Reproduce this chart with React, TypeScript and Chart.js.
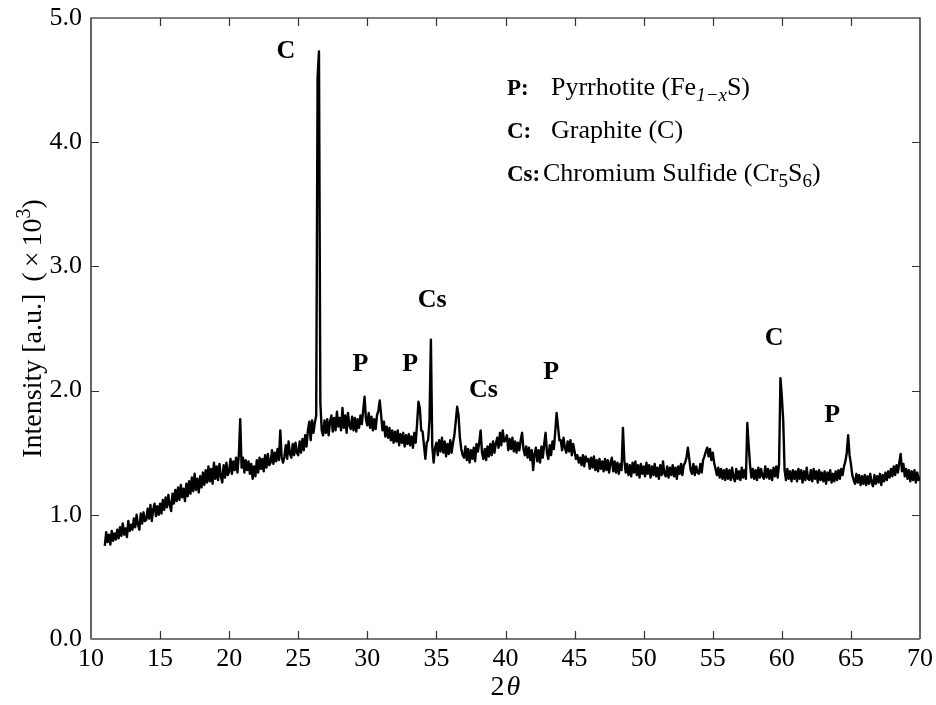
import React, { useEffect, useRef } from "react";
import { Chart, registerables } from "chart.js";

Chart.register(...registerables);

// XRD scan: start angle, step, and intensities (x10^3 a.u.), one row per degree
const startAngle = 11.0;
const stepAngle = 0.1;
const intensityRows: number[][] = [
  [0.75, 0.86, 0.78, 0.84, 0.76, 0.87, 0.79, 0.85, 0.80, 0.88], // 11
  [0.81, 0.90, 0.83, 0.93, 0.84, 0.89, 0.82, 0.95, 0.87, 0.92], // 12
  [0.88, 0.97, 0.90, 1.00, 0.92, 0.88, 1.01, 0.93, 1.02, 0.95], // 13
  [0.96, 1.05, 0.97, 1.08, 0.95, 1.04, 1.09, 0.99, 1.07, 1.00], // 14
  [1.09, 1.01, 1.12, 1.04, 1.14, 1.06, 1.16, 1.08, 1.03, 1.17], // 15
  [1.09, 1.20, 1.11, 1.22, 1.12, 1.24, 1.14, 1.21, 1.11, 1.25], // 16
  [1.15, 1.27, 1.17, 1.30, 1.19, 1.33, 1.20, 1.29, 1.18, 1.31], // 17
  [1.22, 1.34, 1.24, 1.36, 1.26, 1.39, 1.27, 1.37, 1.25, 1.42], // 18
  [1.29, 1.39, 1.28, 1.41, 1.31, 1.26, 1.40, 1.30, 1.42, 1.32], // 19
  [1.35, 1.45, 1.33, 1.43, 1.36, 1.46, 1.34, 1.48, 1.77, 1.38], // 20
  [1.46, 1.34, 1.44, 1.36, 1.43, 1.33, 1.41, 1.29, 1.39, 1.31], // 21
  [1.44, 1.34, 1.46, 1.37, 1.45, 1.35, 1.48, 1.38, 1.49, 1.40], // 22
  [1.42, 1.52, 1.41, 1.50, 1.43, 1.53, 1.44, 1.68, 1.46, 1.42], // 23
  [1.47, 1.56, 1.45, 1.59, 1.49, 1.46, 1.57, 1.48, 1.58, 1.50], // 24
  [1.48, 1.59, 1.50, 1.61, 1.52, 1.64, 1.55, 1.68, 1.75, 1.60], // 25
  [1.76, 1.66, 1.74, 1.80, 4.52, 4.73, 1.90, 1.68, 1.64, 1.76], // 26
  [1.66, 1.77, 1.64, 1.75, 1.80, 1.67, 1.78, 1.68, 1.83, 1.71], // 27
  [1.78, 1.68, 1.86, 1.70, 1.80, 1.66, 1.82, 1.72, 1.69, 1.79], // 28
  [1.68, 1.78, 1.67, 1.77, 1.70, 1.80, 1.73, 1.84, 1.95, 1.77], // 29
  [1.72, 1.82, 1.70, 1.79, 1.68, 1.77, 1.69, 1.80, 1.84, 1.92], // 30
  [1.80, 1.68, 1.75, 1.63, 1.71, 1.62, 1.70, 1.60, 1.68, 1.58], // 31
  [1.67, 1.59, 1.68, 1.56, 1.65, 1.58, 1.66, 1.55, 1.64, 1.57], // 32
  [1.65, 1.56, 1.63, 1.54, 1.66, 1.58, 1.73, 1.91, 1.86, 1.68], // 33
  [1.67, 1.56, 1.45, 1.58, 1.60, 1.76, 2.41, 1.55, 1.42, 1.54], // 34
  [1.58, 1.48, 1.60, 1.51, 1.62, 1.50, 1.59, 1.47, 1.57, 1.49], // 35
  [1.60, 1.50, 1.58, 1.64, 1.75, 1.87, 1.80, 1.62, 1.53, 1.48], // 36
  [1.46, 1.55, 1.44, 1.53, 1.42, 1.52, 1.45, 1.54, 1.43, 1.57], // 37
  [1.51, 1.58, 1.68, 1.50, 1.45, 1.53, 1.44, 1.55, 1.47, 1.57], // 38
  [1.48, 1.59, 1.50, 1.57, 1.62, 1.54, 1.66, 1.56, 1.68, 1.59], // 39
  [1.60, 1.64, 1.52, 1.61, 1.53, 1.62, 1.51, 1.59, 1.50, 1.58], // 40
  [1.52, 1.60, 1.66, 1.53, 1.48, 1.55, 1.46, 1.54, 1.44, 1.52], // 41
  [1.36, 1.49, 1.54, 1.43, 1.52, 1.42, 1.55, 1.46, 1.57, 1.66], // 42
  [1.50, 1.45, 1.56, 1.48, 1.59, 1.53, 1.67, 1.82, 1.71, 1.60], // 43
  [1.60, 1.52, 1.62, 1.54, 1.50, 1.59, 1.51, 1.60, 1.48, 1.57], // 44
  [1.51, 1.45, 1.48, 1.42, 1.46, 1.40, 1.48, 1.39, 1.47, 1.43], // 45
  [1.45, 1.37, 1.46, 1.38, 1.47, 1.36, 1.44, 1.35, 1.45, 1.37], // 46
  [1.43, 1.35, 1.45, 1.36, 1.44, 1.34, 1.42, 1.46, 1.35, 1.43], // 47
  [1.34, 1.42, 1.33, 1.41, 1.36, 1.70, 1.44, 1.34, 1.41, 1.32], // 48
  [1.40, 1.31, 1.42, 1.34, 1.43, 1.32, 1.40, 1.30, 1.41, 1.33], // 49
  [1.39, 1.31, 1.42, 1.33, 1.40, 1.30, 1.39, 1.32, 1.41, 1.31], // 50
  [1.38, 1.29, 1.40, 1.32, 1.43, 1.33, 1.31, 1.39, 1.30, 1.38], // 51
  [1.32, 1.40, 1.31, 1.38, 1.29, 1.39, 1.33, 1.41, 1.32, 1.40], // 52
  [1.42, 1.46, 1.54, 1.45, 1.36, 1.33, 1.41, 1.32, 1.39, 1.34], // 53
  [1.33, 1.41, 1.34, 1.44, 1.47, 1.51, 1.54, 1.47, 1.53, 1.44], // 54
  [1.50, 1.42, 1.37, 1.32, 1.38, 1.30, 1.37, 1.29, 1.36, 1.28], // 55
  [1.37, 1.29, 1.36, 1.28, 1.38, 1.30, 1.27, 1.37, 1.29, 1.35], // 56
  [1.28, 1.38, 1.30, 1.36, 1.29, 1.74, 1.56, 1.40, 1.30, 1.37], // 57
  [1.29, 1.36, 1.28, 1.38, 1.30, 1.37, 1.31, 1.29, 1.39, 1.30], // 58
  [1.37, 1.29, 1.36, 1.28, 1.38, 1.31, 1.39, 1.30, 1.41, 2.10], // 59
  [1.95, 1.76, 1.36, 1.28, 1.37, 1.29, 1.35, 1.27, 1.36, 1.29], // 60
  [1.35, 1.27, 1.37, 1.29, 1.36, 1.26, 1.35, 1.28, 1.38, 1.29], // 61
  [1.28, 1.36, 1.27, 1.37, 1.29, 1.35, 1.26, 1.36, 1.28, 1.34], // 62
  [1.27, 1.35, 1.25, 1.34, 1.28, 1.36, 1.26, 1.33, 1.27, 1.35], // 63
  [1.28, 1.36, 1.29, 1.37, 1.32, 1.39, 1.43, 1.50, 1.64, 1.48], // 64
  [1.41, 1.32, 1.28, 1.25, 1.33, 1.26, 1.32, 1.24, 1.31, 1.25], // 65
  [1.32, 1.24, 1.31, 1.25, 1.33, 1.26, 1.23, 1.32, 1.25, 1.31], // 66
  [1.26, 1.33, 1.24, 1.32, 1.27, 1.34, 1.28, 1.35, 1.30, 1.37], // 67
  [1.31, 1.39, 1.32, 1.40, 1.34, 1.42, 1.49, 1.35, 1.41, 1.31], // 68
  [1.37, 1.29, 1.36, 1.27, 1.35, 1.28, 1.36, 1.26, 1.34, 1.28], // 69
  [1.31], // 70
];

const xTickValues = [10, 15, 20, 25, 30, 35, 40, 45, 50, 55, 60, 65, 70];
const yTickValues = [0, 1, 2, 3, 4, 5];

// peak annotations (text, 2theta, intensity)
const peakLabels = ["C", "P", "P", "Cs", "Cs", "P", "C", "P"];
const peakLabelX = [24.1, 29.5, 33.1, 34.7, 38.4, 43.3, 59.45, 63.65];
const peakLabelY = [4.73, 2.21, 2.21, 2.73, 2.0, 2.15, 2.42, 1.8];

// phase key
const legendKeys = ["P:", "C:", "Cs:"];
type Seg = [string, string];
const legendNames: Seg[][] = [
  [["Pyrrhotite (Fe", "n"], ["1\u2212x", "subi"], ["S)", "n"]],
  [["Graphite (C)", "n"]],
  [["Chromium Sulfide (Cr", "n"], ["5", "sub"], ["S", "n"], ["6", "sub"], [")", "n"]],
];

const SERIF = '"Liberation Serif", "Times New Roman", serif';

function buildPoints() {
  const pts: { x: number; y: number }[] = [];
  let i = 0;
  for (const row of intensityRows) {
    for (const v of row) {
      pts.push({ x: Math.round((startAngle + i * stepAngle) * 100) / 100, y: v });
      i++;
    }
  }
  return pts;
}

const decorPlugin = {
  id: "decor",
  afterDatasetsDraw(chart: any) {
    const ctx: CanvasRenderingContext2D = chart.ctx;
    const { left, right, top, bottom } = chart.chartArea;
    const xs = chart.scales.x;
    const ys = chart.scales.y;
    ctx.save();

    // frame
    ctx.lineCap = "butt";
    ctx.strokeStyle = "#000";
    ctx.lineWidth = 1.2;
    ctx.beginPath();
    ctx.moveTo(left, top);
    ctx.lineTo(right, top);
    ctx.moveTo(right, top - 0.6);
    ctx.lineTo(right, bottom);
    ctx.moveTo(left, top - 0.6);
    ctx.lineTo(left, bottom);
    ctx.stroke();
    ctx.strokeStyle = "#777";
    ctx.lineWidth = 2;
    ctx.beginPath();
    ctx.moveTo(left - 0.6, bottom);
    ctx.lineTo(right, bottom);
    ctx.stroke();

    // inward ticks
    const tl = 8;
    ctx.strokeStyle = "#333";
    ctx.lineWidth = 1.2;
    ctx.beginPath();
    for (const v of xTickValues) {
      if (v === xTickValues[0] || v === xTickValues[xTickValues.length - 1]) continue;
      const px = Math.round(xs.getPixelForValue(v)) + 0.5;
      ctx.moveTo(px, bottom);
      ctx.lineTo(px, bottom - tl);
      ctx.moveTo(px, top);
      ctx.lineTo(px, top + tl);
    }
    for (const v of yTickValues) {
      if (v === yTickValues[0] || v === yTickValues[yTickValues.length - 1]) continue;
      const py = Math.round(ys.getPixelForValue(v)) + 0.5;
      ctx.moveTo(left, py);
      ctx.lineTo(left + tl, py);
      ctx.moveTo(right, py);
      ctx.lineTo(right - tl, py);
    }
    ctx.stroke();

    // peak labels
    ctx.fillStyle = "#000";
    ctx.font = `bold 26px ${SERIF}`;
    ctx.textAlign = "center";
    ctx.textBaseline = "middle";
    peakLabels.forEach((t, i) => {
      ctx.fillText(t, xs.getPixelForValue(peakLabelX[i]), ys.getPixelForValue(peakLabelY[i]));
    });

    // phase key
    ctx.textAlign = "left";
    ctx.textBaseline = "alphabetic";
    const size = 26;
    const baselines = [95, 138, 181];
    const nameX = [551, 551, 543];
    legendKeys.forEach((k, r) => {
      ctx.font = `bold 23px ${SERIF}`;
      ctx.fillText(k, 507, baselines[r]);
      let cx = nameX[r];
      for (const [text, kind] of legendNames[r]) {
        let dy = 0;
        if (kind === "sub") {
          ctx.font = `${Math.round(size * 0.72)}px ${SERIF}`;
          dy = size * 0.22;
        } else if (kind === "subi") {
          ctx.font = `italic ${Math.round(size * 0.72)}px ${SERIF}`;
          dy = size * 0.22;
        } else {
          ctx.font = `${size}px ${SERIF}`;
        }
        ctx.fillText(text, cx, baselines[r] + dy);
        cx += ctx.measureText(text).width;
      }
    });

    // x title: 2θ
    ctx.font = `28px ${SERIF}`;
    const w2 = ctx.measureText("2").width;
    ctx.font = `italic 28px ${SERIF}`;
    const wt = ctx.measureText("\u03b8").width;
    const cxm = (left + right) / 2;
    const sx = cxm - (w2 + wt + 2) / 2;
    ctx.font = `28px ${SERIF}`;
    ctx.fillText("2", sx, 695);
    ctx.font = `italic 28px ${SERIF}`;
    ctx.fillText("\u03b8", sx + w2 + 2, 695);

    // y title, drawn along the rotated baseline
    const tsize = 28;
    const ySegs: [string, string, number][] = [
      ["Intensity [a.u.]", "n", 12],
      ["(", "n", 5],
      ["\u00d7", "n", 5],
      ["10", "n", 0],
      ["3", "sup", 0],
      [")", "n", 0],
    ];
    const fontFor = (kind: string) =>
      kind === "sup" ? `${Math.round(tsize * 0.7)}px ${SERIF}` : `${tsize}px ${SERIF}`;
    let total = 0;
    for (const [t, kind, gap] of ySegs) {
      ctx.font = fontFor(kind);
      total += ctx.measureText(t).width + gap;
    }
    ctx.translate(41, (top + bottom) / 2);
    ctx.rotate(-Math.PI / 2);
    ctx.textAlign = "left";
    let tx = -total / 2;
    for (const [t, kind, gap] of ySegs) {
      ctx.font = fontFor(kind);
      ctx.fillText(t, tx, kind === "sup" ? -tsize * 0.4 : 0);
      tx += ctx.measureText(t).width + gap;
    }

    ctx.restore();
  },
};

export default function App() {
  const canvasRef = useRef<HTMLCanvasElement | null>(null);

  useEffect(() => {
    const canvas = canvasRef.current;
    if (!canvas) return;
    const chart = new Chart(canvas, {
      type: "line",
      data: {
        datasets: [
          {
            data: buildPoints(),
            borderColor: "#000",
            borderWidth: 2.4,
            borderJoinStyle: "round",
            pointRadius: 0,
            tension: 0,
            fill: false,
          },
        ],
      },
      options: {
        responsive: false,
        animation: false,
        devicePixelRatio: 1,
        layout: { padding: { top: 18, right: 16, left: 0, bottom: 0 } },
        plugins: { legend: { display: false }, tooltip: { enabled: false } },
        scales: {
          x: {
            type: "linear",
            min: 10,
            max: 70,
            grid: { display: false, drawTicks: false },
            border: { display: false },
            afterBuildTicks: (s: any) => {
              s.ticks = xTickValues.map((v) => ({ value: v }));
            },
            afterFit: (s: any) => {
              s.height = 66;
              s.paddingLeft = 0;
              s.paddingRight = 0;
            },
            ticks: {
              color: "#000",
              padding: 5,
              maxRotation: 0,
              autoSkip: false,
              font: { family: SERIF, size: 26 },
              callback: (v: any) => String(v),
            },
          },
          y: {
            type: "linear",
            min: 0,
            max: 5,
            grid: { display: false, drawTicks: false },
            border: { display: false },
            afterBuildTicks: (s: any) => {
              s.ticks = yTickValues.map((v) => ({ value: v }));
            },
            afterFit: (s: any) => {
              s.width = 91;
              s.paddingTop = 0;
              s.paddingBottom = 0;
            },
            ticks: {
              color: "#000",
              padding: 9,
              autoSkip: false,
              font: { family: SERIF, size: 26 },
              callback: (v: any) => Number(v).toFixed(1),
            },
          },
        },
      },
      plugins: [decorPlugin],
    });
    return () => chart.destroy();
  }, []);

  return (
    <div style={{ position: "fixed", left: 0, top: 0, width: 936, height: 705, background: "#fff" }}>
      <canvas ref={canvasRef} width={936} height={705} style={{ width: 936, height: 705, display: "block" }} />
    </div>
  );
}
